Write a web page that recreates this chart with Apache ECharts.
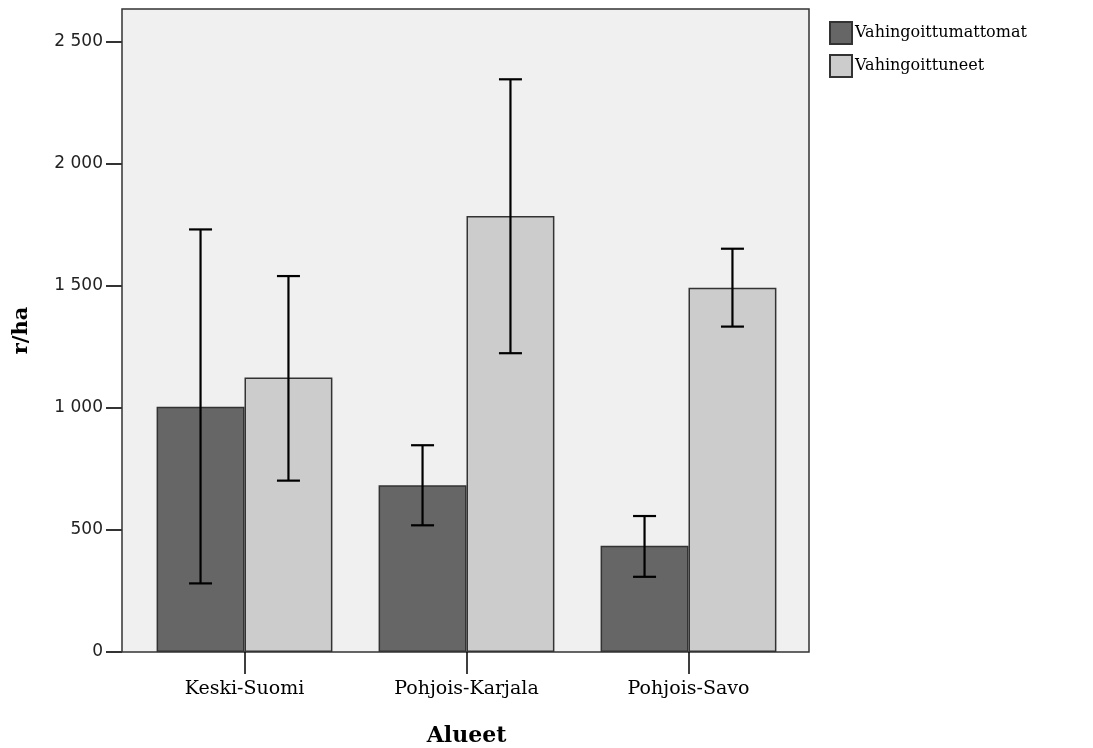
<!DOCTYPE html>
<html><head><meta charset="utf-8">
<script src="https://cdn.jsdelivr.net/npm/echarts@6/dist/echarts.min.js"></script>
<style>html,body{margin:0;padding:0;background:#fff}#c{width:1093px;height:748px}</style>
</head><body><div id="c"></div>
<script>
var categories = ['Keski-Suomi', 'Pohjois-Karjala', 'Pohjois-Savo'];
var seriesNames = ['Vahingoittumattomat', 'Vahingoittuneet'];
var undamagedMean = [1005, 683, 435];
var undamagedLow = [281, 519, 308];
var undamagedHigh = [1731, 847, 557];
var damagedMean = [1124, 1786, 1492];
var damagedLow = [702, 1224, 1333];
var damagedHigh = [1540, 2346, 1652];
var yTicks = [0, 500, 1000, 1500, 2000, 2500];

var BAR_FRAC = 0.396;
var serif = '"DejaVu Serif", "Liberation Serif", serif';

function errData(low, high) {
  return categories.map(function (c, i) { return [i, low[i], high[i]]; });
}
function errRender(side) {
  return function (params, api) {
    var i = api.value(0);
    var lo = api.coord([i, api.value(1)]);
    var hi = api.coord([i, api.value(2)]);
    var band = api.size([1, 0])[0];
    var bw = band * BAR_FRAC;
    var x = lo[0] + side * bw / 2;
    var cap = 11.5;
    var st = { stroke: '#000', lineWidth: 2.2 };
    return { type: 'group', children: [
      { type: 'line', shape: { x1: x, y1: hi[1], x2: x, y2: lo[1] }, style: st },
      { type: 'line', shape: { x1: x - cap, y1: hi[1], x2: x + cap, y2: hi[1] }, style: st },
      { type: 'line', shape: { x1: x - cap, y1: lo[1], x2: x + cap, y2: lo[1] }, style: st }
    ]};
  };
}

var chart = echarts.init(document.getElementById('c'), null, { renderer: 'canvas' });
chart.setOption({
  animation: false,
  backgroundColor: '#ffffff',
  grid: [
    { left: 122, right: 284, top: 9, bottom: 96, show: true, backgroundColor: '#f0f0f0', borderColor: '#333', borderWidth: 1.5, z: 0, outerBoundsMode: 'none', containLabel: false },
    { left: 133.5, right: 293.5, top: 9, bottom: 96, outerBoundsMode: 'none', containLabel: false }
  ],
  legend: {
    orient: 'vertical', left: 824, top: 16, itemWidth: 22, itemHeight: 22, itemGap: 9,
    icon: 'rect',
    textStyle: { fontFamily: serif, fontSize: 16, color: '#000', padding: [0, 0, 0, -2] },
    data: seriesNames
  },
  xAxis: [
    { gridIndex: 0, type: 'value', show: false, min: 0, max: 1 },
    { gridIndex: 1, type: 'category', data: categories, boundaryGap: true,
      axisLine: { show: false },
      axisTick: { show: true, alignWithLabel: true, length: 22, lineStyle: { color: '#000', width: 1.5 } },
      axisLabel: { fontFamily: serif, fontSize: 19, color: '#000', margin: 28 },
      name: 'Alueet', nameLocation: 'middle', nameGap: 73,
      nameTextStyle: { fontFamily: serif, fontSize: 22, fontWeight: 'bold', color: '#000' }
    }
  ],
  yAxis: [
    { gridIndex: 0, type: 'value', show: false, min: 0, max: 1 },
    { gridIndex: 1, type: 'value', min: 0, max: 2634, interval: 500, offset: 11.5,
      axisLine: { show: false },
      axisTick: { show: true, length: 16, lineStyle: { color: '#333', width: 2 }, customValues: yTicks },
      splitLine: { show: false },
      axisLabel: {
        margin: 19, fontFamily: '"DejaVu Sans", sans-serif', fontSize: 17, color: '#222',
        customValues: yTicks,
        formatter: function (v) { return v >= 1000 ? Math.floor(v / 1000) + ' ' + String(v % 1000).padStart(3, '0') : String(v); }
      },
      name: 'r/ha', nameLocation: 'middle', nameGap: 90, nameRotate: 90,
      nameTextStyle: { fontFamily: serif, fontSize: 21, fontWeight: 'bold', color: '#000' }
    }
  ],
  series: [
    { name: seriesNames[0], type: 'bar', xAxisIndex: 1, yAxisIndex: 1, data: undamagedMean,
      barWidth: (BAR_FRAC * 100) + '%', barGap: '0%',
      itemStyle: { color: '#666666', borderColor: '#333', borderWidth: 1.5 } },
    { name: seriesNames[1], type: 'bar', xAxisIndex: 1, yAxisIndex: 1, data: damagedMean,
      barWidth: (BAR_FRAC * 100) + '%', barGap: '0%',
      itemStyle: { color: '#cccccc', borderColor: '#333', borderWidth: 1.5 } },
    { type: 'custom', xAxisIndex: 1, yAxisIndex: 1, renderItem: errRender(-1), data: errData(undamagedLow, undamagedHigh), z: 5, silent: true },
    { type: 'custom', xAxisIndex: 1, yAxisIndex: 1, renderItem: errRender(1), data: errData(damagedLow, damagedHigh), z: 5, silent: true }
  ]
});
</script></body></html>
